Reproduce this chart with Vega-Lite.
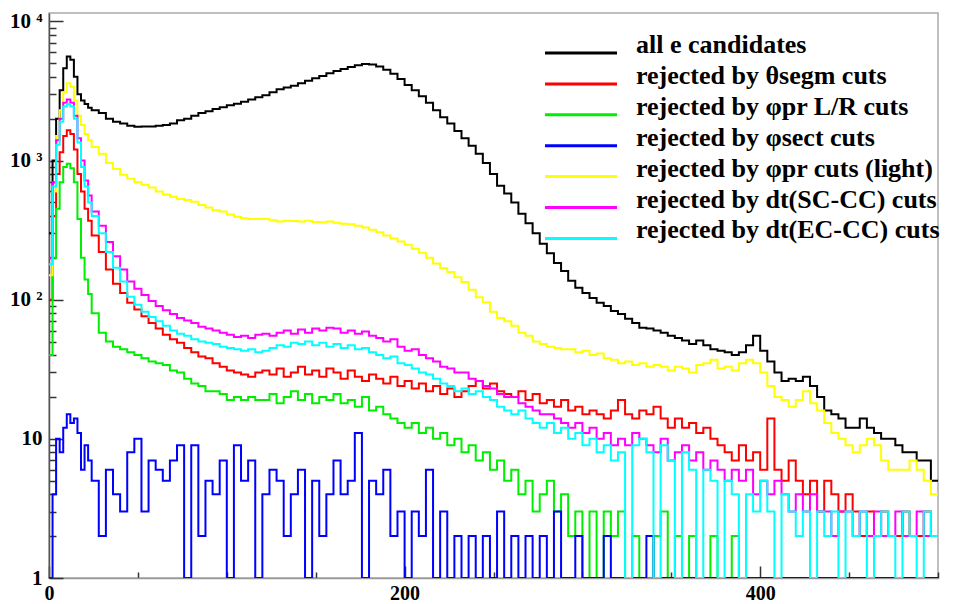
{
  "$schema": "https://vega.github.io/schema/vega-lite/v6.json",
  "width": 889,
  "height": 565,
  "autosize": {"type": "none"},
  "padding": {"left": 49, "top": 13, "right": 15, "bottom": 26},
  "background": "white",
  "config": {"view": {"stroke": "#aaaaaa", "strokeWidth": 1.5}},
  "data": {
    "values": [
      {"x": 0, "k": 300, "r": 100, "g": 40, "b": 1, "y": 150, "m": 200, "c": 180},
      {"x": 2, "k": 1000, "r": 400, "g": 200, "b": 4, "y": 600, "m": 700, "c": 650},
      {"x": 4, "k": 2000, "r": 800, "g": 450, "b": 10, "y": 1500, "m": 1400, "c": 1300},
      {"x": 6, "k": 3200, "r": 1150, "g": 700, "b": 8, "y": 2300, "m": 2000, "c": 1900},
      {"x": 8, "k": 4600, "r": 1500, "g": 900, "b": 12, "y": 3100, "m": 2600, "c": 2450},
      {"x": 10, "k": 5600, "r": 1650, "g": 950, "b": 15, "y": 3600, "m": 2750, "c": 2550},
      {"x": 12, "k": 5300, "r": 1550, "g": 880, "b": 13, "y": 3400, "m": 2600, "c": 2450},
      {"x": 14, "k": 4000, "r": 1200, "g": 700, "b": 14, "y": 2700, "m": 2100, "c": 2000},
      {"x": 16, "k": 3000, "r": 800, "g": 380, "b": 11, "y": 2100, "m": 1450, "c": 1350},
      {"x": 18, "k": 2700, "r": 600, "g": 200, "b": 6, "y": 1800, "m": 1000, "c": 900},
      {"x": 20, "k": 2550, "r": 450, "g": 140, "b": 9, "y": 1550, "m": 720, "c": 650},
      {"x": 22, "k": 2400, "r": 370, "g": 110, "b": 7, "y": 1400, "m": 560, "c": 500},
      {"x": 24, "k": 2300, "r": 290, "g": 80, "b": 5, "y": 1250, "m": 430, "c": 400},
      {"x": 28, "k": 2200, "r": 220, "g": 58, "b": 2, "y": 1120, "m": 340, "c": 300},
      {"x": 32, "k": 2000, "r": 165, "g": 50, "b": 6, "y": 960, "m": 260, "c": 220},
      {"x": 36, "k": 1900, "r": 130, "g": 46, "b": 4, "y": 870, "m": 205, "c": 170},
      {"x": 40, "k": 1850, "r": 112, "g": 44, "b": 3, "y": 790, "m": 165, "c": 135},
      {"x": 44, "k": 1780, "r": 95, "g": 42, "b": 8, "y": 740, "m": 135, "c": 105},
      {"x": 48, "k": 1750, "r": 85, "g": 40, "b": 10, "y": 700, "m": 120, "c": 92},
      {"x": 52, "k": 1760, "r": 76, "g": 38, "b": 3, "y": 670, "m": 108, "c": 82},
      {"x": 56, "k": 1760, "r": 68, "g": 36, "b": 7, "y": 640, "m": 98, "c": 75},
      {"x": 60, "k": 1780, "r": 62, "g": 35, "b": 6, "y": 600, "m": 90, "c": 70},
      {"x": 64, "k": 1800, "r": 56, "g": 34, "b": 5, "y": 570, "m": 84, "c": 65},
      {"x": 68, "k": 1850, "r": 52, "g": 31, "b": 7, "y": 550, "m": 79, "c": 60},
      {"x": 72, "k": 1950, "r": 49, "g": 30, "b": 9, "y": 530, "m": 74, "c": 57},
      {"x": 76, "k": 2000, "r": 45, "g": 27, "b": 1, "y": 520, "m": 71, "c": 55},
      {"x": 80, "k": 2100, "r": 42, "g": 25, "b": 9, "y": 505, "m": 68, "c": 52},
      {"x": 84, "k": 2200, "r": 39, "g": 24, "b": 2, "y": 480, "m": 64, "c": 50},
      {"x": 88, "k": 2260, "r": 38, "g": 22, "b": 5, "y": 460, "m": 62, "c": 49},
      {"x": 92, "k": 2350, "r": 35, "g": 22, "b": 4, "y": 440, "m": 60, "c": 48},
      {"x": 96, "k": 2420, "r": 33, "g": 21, "b": 7, "y": 430, "m": 58, "c": 46},
      {"x": 100, "k": 2500, "r": 31, "g": 19, "b": 1, "y": 410, "m": 56, "c": 45},
      {"x": 104, "k": 2560, "r": 30, "g": 20, "b": 9, "y": 395, "m": 54, "c": 44},
      {"x": 108, "k": 2650, "r": 29, "g": 19, "b": 5, "y": 385, "m": 55, "c": 43},
      {"x": 112, "k": 2750, "r": 28, "g": 20, "b": 7, "y": 380, "m": 53, "c": 44},
      {"x": 116, "k": 2850, "r": 30, "g": 19, "b": 1, "y": 380, "m": 56, "c": 42},
      {"x": 120, "k": 2950, "r": 31, "g": 19, "b": 4, "y": 380, "m": 57, "c": 43},
      {"x": 124, "k": 3100, "r": 29, "g": 21, "b": 6, "y": 372, "m": 55, "c": 45},
      {"x": 128, "k": 3250, "r": 32, "g": 18, "b": 5, "y": 365, "m": 58, "c": 47},
      {"x": 132, "k": 3350, "r": 28, "g": 20, "b": 2, "y": 370, "m": 60, "c": 46},
      {"x": 136, "k": 3450, "r": 30, "g": 22, "b": 4, "y": 368, "m": 57, "c": 49},
      {"x": 140, "k": 3600, "r": 33, "g": 19, "b": 6, "y": 365, "m": 61, "c": 48},
      {"x": 144, "k": 3750, "r": 29, "g": 21, "b": 1, "y": 370, "m": 58, "c": 50},
      {"x": 148, "k": 3900, "r": 31, "g": 18, "b": 5, "y": 362, "m": 62, "c": 47},
      {"x": 152, "k": 4050, "r": 28, "g": 20, "b": 2, "y": 360, "m": 60, "c": 49},
      {"x": 156, "k": 4250, "r": 32, "g": 19, "b": 4, "y": 365, "m": 63, "c": 46},
      {"x": 160, "k": 4400, "r": 30, "g": 21, "b": 7, "y": 358, "m": 62, "c": 48},
      {"x": 164, "k": 4550, "r": 27, "g": 18, "b": 4, "y": 352, "m": 58, "c": 45},
      {"x": 168, "k": 4700, "r": 31, "g": 19, "b": 5, "y": 348, "m": 60, "c": 47},
      {"x": 172, "k": 4850, "r": 28, "g": 17, "b": 11, "y": 340, "m": 57, "c": 44},
      {"x": 176, "k": 4950, "r": 26, "g": 20, "b": 1, "y": 330, "m": 59, "c": 45},
      {"x": 180, "k": 4900, "r": 29, "g": 16, "b": 5, "y": 318, "m": 55, "c": 42},
      {"x": 184, "k": 4750, "r": 27, "g": 17, "b": 4, "y": 305, "m": 53, "c": 40},
      {"x": 188, "k": 4500, "r": 25, "g": 15, "b": 6, "y": 290, "m": 50, "c": 38},
      {"x": 192, "k": 4200, "r": 28, "g": 14, "b": 2, "y": 275, "m": 52, "c": 39},
      {"x": 196, "k": 3850, "r": 24, "g": 13, "b": 3, "y": 262, "m": 46, "c": 35},
      {"x": 200, "k": 3500, "r": 26, "g": 12, "b": 1, "y": 248, "m": 43, "c": 34},
      {"x": 204, "k": 3200, "r": 23, "g": 13, "b": 3, "y": 232, "m": 44, "c": 32},
      {"x": 208, "k": 2900, "r": 25, "g": 11, "b": 2, "y": 218, "m": 40, "c": 30},
      {"x": 212, "k": 2600, "r": 22, "g": 12, "b": 6, "y": 200, "m": 38, "c": 29},
      {"x": 216, "k": 2300, "r": 24, "g": 10, "b": 1, "y": 182, "m": 36, "c": 27},
      {"x": 220, "k": 2050, "r": 21, "g": 11, "b": 3, "y": 168, "m": 33, "c": 25},
      {"x": 224, "k": 1850, "r": 23, "g": 9, "b": 1, "y": 158, "m": 32, "c": 24},
      {"x": 228, "k": 1630, "r": 20, "g": 10, "b": 2, "y": 145, "m": 30, "c": 22},
      {"x": 232, "k": 1450, "r": 22, "g": 8, "b": 1, "y": 134, "m": 30, "c": 23},
      {"x": 236, "k": 1280, "r": 24, "g": 9, "b": 2, "y": 118, "m": 27, "c": 21},
      {"x": 240, "k": 1120, "r": 26, "g": 7, "b": 1, "y": 104, "m": 26, "c": 22},
      {"x": 244, "k": 960, "r": 23, "g": 8, "b": 2, "y": 96, "m": 24, "c": 20},
      {"x": 248, "k": 800, "r": 25, "g": 6, "b": 1, "y": 82, "m": 23, "c": 19},
      {"x": 252, "k": 660, "r": 22, "g": 7, "b": 3, "y": 74, "m": 21, "c": 17},
      {"x": 256, "k": 580, "r": 21, "g": 5, "b": 1, "y": 70, "m": 20, "c": 16},
      {"x": 260, "k": 500, "r": 20, "g": 6, "b": 2, "y": 65, "m": 20, "c": 15},
      {"x": 264, "k": 415, "r": 22, "g": 4, "b": 1, "y": 58, "m": 18, "c": 16},
      {"x": 268, "k": 355, "r": 19, "g": 5, "b": 2, "y": 55, "m": 17, "c": 14},
      {"x": 272, "k": 300, "r": 21, "g": 3, "b": 1, "y": 50, "m": 16, "c": 13},
      {"x": 276, "k": 252, "r": 18, "g": 4, "b": 2, "y": 48, "m": 15, "c": 12},
      {"x": 280, "k": 216, "r": 19, "g": 5, "b": 1, "y": 46, "m": 15, "c": 13},
      {"x": 284, "k": 184, "r": 17, "g": 3, "b": 3, "y": 45, "m": 14, "c": 11},
      {"x": 288, "k": 161, "r": 19, "g": 4, "b": 1, "y": 44, "m": 13, "c": 12},
      {"x": 292, "k": 137, "r": 16, "g": 2, "b": 1, "y": 44, "m": 12, "c": 10},
      {"x": 296, "k": 122, "r": 17, "g": 3, "b": 2, "y": 42, "m": 13, "c": 11},
      {"x": 300, "k": 112, "r": 15, "g": 1, "b": 1, "y": 43, "m": 11, "c": 9},
      {"x": 304, "k": 103, "r": 16, "g": 3, "b": 1, "y": 40, "m": 12, "c": 10},
      {"x": 308, "k": 95, "r": 15, "g": 1, "b": 1, "y": 41, "m": 10, "c": 8},
      {"x": 312, "k": 90, "r": 14, "g": 3, "b": 2, "y": 38, "m": 11, "c": 9},
      {"x": 316, "k": 83, "r": 16, "g": 2, "b": 1, "y": 37, "m": 9, "c": 7},
      {"x": 320, "k": 79, "r": 19, "g": 3, "b": 1, "y": 35, "m": 10, "c": 8},
      {"x": 324, "k": 73, "r": 15, "g": 1, "b": 1, "y": 36, "m": 9, "c": 1},
      {"x": 328, "k": 68, "r": 14, "g": 2, "b": 1, "y": 34, "m": 11, "c": 9},
      {"x": 332, "k": 63, "r": 16, "g": 1, "b": 1, "y": 35, "m": 10, "c": 10},
      {"x": 336, "k": 62, "r": 15, "g": 1, "b": 2, "y": 33, "m": 9, "c": 8},
      {"x": 340, "k": 60, "r": 17, "g": 2, "b": 1, "y": 34, "m": 8, "c": 1},
      {"x": 344, "k": 58, "r": 14, "g": 3, "b": 1, "y": 33, "m": 10, "c": 9},
      {"x": 348, "k": 55, "r": 12, "g": 1, "b": 1, "y": 31, "m": 7, "c": 7},
      {"x": 352, "k": 53, "r": 14, "g": 2, "b": 1, "y": 33, "m": 8, "c": 1},
      {"x": 356, "k": 51, "r": 12, "g": 1, "b": 1, "y": 32, "m": 9, "c": 8},
      {"x": 360, "k": 48, "r": 13, "g": 2, "b": 1, "y": 30, "m": 7, "c": 6},
      {"x": 364, "k": 51, "r": 11, "g": 1, "b": 1, "y": 34, "m": 8, "c": 1},
      {"x": 368, "k": 47, "r": 12, "g": 1, "b": 1, "y": 35, "m": 6, "c": 6},
      {"x": 372, "k": 44, "r": 10, "g": 2, "b": 1, "y": 37, "m": 7, "c": 5},
      {"x": 376, "k": 43, "r": 9, "g": 1, "b": 1, "y": 32, "m": 6, "c": 1},
      {"x": 380, "k": 42, "r": 8, "g": 1, "b": 1, "y": 33, "m": 5, "c": 5},
      {"x": 384, "k": 40, "r": 7, "g": 2, "b": 1, "y": 31, "m": 6, "c": 4},
      {"x": 388, "k": 42, "r": 9, "g": 1, "b": 1, "y": 35, "m": 5, "c": 1},
      {"x": 392, "k": 47, "r": 7, "g": 1, "b": 1, "y": 37, "m": 6, "c": 4},
      {"x": 396, "k": 55, "r": 8, "g": 1, "b": 1, "y": 35, "m": 4, "c": 3},
      {"x": 400, "k": 43, "r": 6, "g": 1, "b": 1, "y": 30, "m": 5, "c": 5},
      {"x": 404, "k": 36, "r": 14, "g": 1, "b": 1, "y": 24, "m": 4, "c": 3},
      {"x": 408, "k": 30, "r": 6, "g": 1, "b": 1, "y": 20, "m": 5, "c": 1},
      {"x": 412, "k": 26, "r": 5, "g": 1, "b": 1, "y": 19, "m": 4, "c": 4},
      {"x": 416, "k": 27, "r": 7, "g": 1, "b": 1, "y": 17, "m": 3, "c": 3},
      {"x": 420, "k": 26, "r": 5, "g": 1, "b": 1, "y": 19, "m": 4, "c": 2},
      {"x": 424, "k": 28, "r": 4, "g": 1, "b": 1, "y": 22, "m": 3, "c": 3},
      {"x": 428, "k": 24, "r": 5, "g": 1, "b": 1, "y": 18, "m": 4, "c": 1},
      {"x": 432, "k": 20, "r": 3, "g": 1, "b": 1, "y": 16, "m": 3, "c": 3},
      {"x": 436, "k": 16, "r": 5, "g": 1, "b": 1, "y": 13, "m": 3, "c": 2},
      {"x": 440, "k": 15, "r": 4, "g": 1, "b": 1, "y": 11, "m": 2, "c": 3},
      {"x": 444, "k": 14, "r": 3, "g": 1, "b": 1, "y": 10, "m": 3, "c": 1},
      {"x": 448, "k": 12, "r": 4, "g": 1, "b": 1, "y": 9, "m": 3, "c": 3},
      {"x": 452, "k": 12, "r": 3, "g": 1, "b": 1, "y": 8, "m": 2, "c": 2},
      {"x": 456, "k": 14, "r": 2, "g": 1, "b": 1, "y": 9, "m": 3, "c": 3},
      {"x": 460, "k": 12, "r": 3, "g": 1, "b": 1, "y": 10, "m": 2, "c": 1},
      {"x": 464, "k": 11, "r": 2, "g": 1, "b": 1, "y": 9, "m": 3, "c": 2},
      {"x": 468, "k": 10, "r": 3, "g": 1, "b": 1, "y": 7, "m": 2, "c": 3},
      {"x": 472, "k": 10, "r": 2, "g": 1, "b": 1, "y": 6, "m": 2, "c": 2},
      {"x": 476, "k": 9, "r": 2, "g": 1, "b": 1, "y": 6, "m": 3, "c": 1},
      {"x": 480, "k": 8, "r": 3, "g": 1, "b": 1, "y": 6, "m": 2, "c": 3},
      {"x": 484, "k": 8, "r": 2, "g": 1, "b": 1, "y": 7, "m": 2, "c": 2},
      {"x": 488, "k": 7, "r": 2, "g": 1, "b": 1, "y": 6, "m": 3, "c": 1},
      {"x": 492, "k": 7, "r": 3, "g": 1, "b": 1, "y": 5, "m": 2, "c": 3},
      {"x": 496, "k": 5, "r": 2, "g": 1, "b": 1, "y": 4, "m": 2, "c": 2},
      {"x": 500, "k": 5, "r": 2, "g": 1, "b": 1, "y": 4, "m": 2, "c": 2}
    ]
  },
  "transform": [
    {"fold": ["k", "r", "g", "b", "y", "m", "c"], "as": ["series", "count"]}
  ],
  "mark": {"type": "line", "interpolate": "step-after", "strokeWidth": 2, "clip": true},
  "encoding": {
    "x": {
      "field": "x",
      "type": "quantitative",
      "scale": {"domain": [0, 500], "nice": false, "zero": false},
      "axis": {
        "title": null,
        "grid": false,
        "values": [0, 50, 100, 150, 200, 250, 300, 350, 400, 450, 500],
        "labelExpr": "datum.value % 200 === 0 ? datum.label : ''",
        "tickSize": {"condition": {"test": "datum.value % 200 === 0", "value": -12}, "value": -6},
        "tickColor": "#333333",
        "tickWidth": 1.5,
        "domainColor": "#999999",
        "domainWidth": 1.5,
        "labelFont": "Liberation Serif",
        "labelFontWeight": "bold",
        "labelFontSize": 20,
        "labelColor": "#000000",
        "labelPadding": 17,
        "labelFlush": false,
        "labelOverlap": false
      }
    },
    "y": {
      "field": "count",
      "type": "quantitative",
      "scale": {"type": "log", "domain": [1, 11500], "nice": false},
      "axis": {
        "title": null,
        "grid": false,
        "values": [1, 2, 3, 4, 5, 6, 7, 8, 9, 10, 20, 30, 40, 50, 60, 70, 80, 90, 100, 200, 300, 400, 500, 600, 700, 800, 900, 1000, 2000, 3000, 4000, 5000, 6000, 7000, 8000, 9000, 10000],
        "labelExpr": "datum.value === 10000 ? '10 ⁴' : datum.value === 1000 ? '10 ³' : datum.value === 100 ? '10 ²' : datum.value === 10 ? '10' : datum.value === 1 ? '1' : ''",
        "tickSize": {"condition": {"test": "datum.value === 1 || datum.value === 10 || datum.value === 100 || datum.value === 1000 || datum.value === 10000", "value": -14}, "value": -7},
        "tickColor": "#333333",
        "tickWidth": 1.5,
        "domainColor": "#555555",
        "domainWidth": 1.5,
        "labelFont": "Liberation Serif",
        "labelFontWeight": "bold",
        "labelFontSize": 21,
        "labelColor": "#000000",
        "labelPadding": 21,
        "labelFlush": false,
        "labelOverlap": false
      }
    },
    "color": {
      "field": "series",
      "type": "nominal",
      "scale": {
        "domain": ["k", "r", "g", "b", "y", "m", "c"],
        "range": ["#000000", "#ff0000", "#00ee00", "#0000ff", "#ffff00", "#ff00ff", "#00ffff"]
      },
      "legend": {
        "orient": "none",
        "legendX": 519,
        "legendY": 27,
        "title": null,
        "padding": 0,
        "symbolType": "M-7.2,0H7.2",
        "symbolSize": 100,
        "symbolStrokeWidth": 3,
        "labelFont": "Liberation Serif",
        "labelFontWeight": "bold",
        "labelFontSize": 26,
        "labelColor": "#000000",
        "labelBaseline": "alphabetic",
        "labelOffset": 42,
        "labelLimit": 500,
        "rowPadding": 3.9,
        "labelExpr": "datum.value === 'k' ? 'all e candidates' : datum.value === 'r' ? 'rejected by θsegm cuts' : datum.value === 'g' ? 'rejected by φpr L/R cuts' : datum.value === 'b' ? 'rejected by φsect cuts' : datum.value === 'y' ? 'rejected by φpr cuts (light)' : datum.value === 'm' ? 'rejected by dt(SC-CC) cuts' : 'rejected by dt(EC-CC) cuts'"
      }
    }
  }
}
